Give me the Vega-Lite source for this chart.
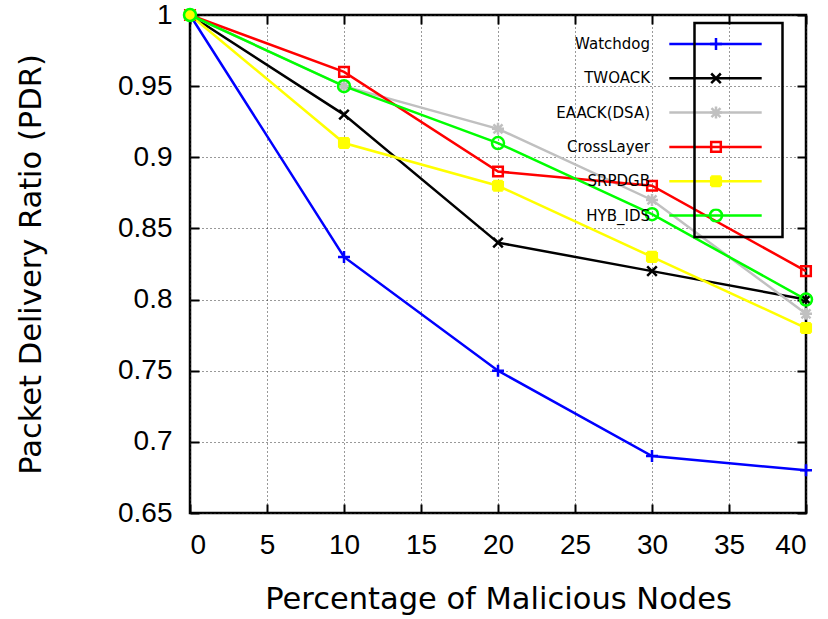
{
  "$schema": "https://vega.github.io/schema/vega-lite/v6.json",
  "autosize": {"type": "none"},
  "width": 616,
  "height": 498,
  "padding": {"left": 190, "top": 15, "right": 22, "bottom": 106},
  "background": "white",
  "config": {
    "font": "Liberation Sans",
    "view": {"stroke": "black", "strokeWidth": 2.5},
    "axis": {"domain": false, "labelColor": "black", "titleColor": "black", "titleFontWeight": "normal", "tickColor": "black", "tickWidth": 2},
    "legend": {"strokeWidth": 2.5}
  },
  "data": {"values": [
    {"pct": 0, "PDR": 1, "series": "Watchdog"},
    {"pct": 10, "PDR": 0.83, "series": "Watchdog"},
    {"pct": 20, "PDR": 0.75, "series": "Watchdog"},
    {"pct": 30, "PDR": 0.69, "series": "Watchdog"},
    {"pct": 40, "PDR": 0.68, "series": "Watchdog"},
    {"pct": 0, "PDR": 1, "series": "TWOACK"},
    {"pct": 10, "PDR": 0.93, "series": "TWOACK"},
    {"pct": 20, "PDR": 0.84, "series": "TWOACK"},
    {"pct": 30, "PDR": 0.82, "series": "TWOACK"},
    {"pct": 40, "PDR": 0.80, "series": "TWOACK"},
    {"pct": 0, "PDR": 1, "series": "EAACK(DSA)"},
    {"pct": 10, "PDR": 0.95, "series": "EAACK(DSA)"},
    {"pct": 20, "PDR": 0.92, "series": "EAACK(DSA)"},
    {"pct": 30, "PDR": 0.87, "series": "EAACK(DSA)"},
    {"pct": 40, "PDR": 0.79, "series": "EAACK(DSA)"},
    {"pct": 0, "PDR": 1, "series": "CrossLayer"},
    {"pct": 10, "PDR": 0.96, "series": "CrossLayer"},
    {"pct": 20, "PDR": 0.89, "series": "CrossLayer"},
    {"pct": 30, "PDR": 0.88, "series": "CrossLayer"},
    {"pct": 40, "PDR": 0.82, "series": "CrossLayer"},
    {"pct": 0, "PDR": 1, "series": "SRPDGB"},
    {"pct": 10, "PDR": 0.91, "series": "SRPDGB"},
    {"pct": 20, "PDR": 0.88, "series": "SRPDGB"},
    {"pct": 30, "PDR": 0.83, "series": "SRPDGB"},
    {"pct": 40, "PDR": 0.78, "series": "SRPDGB"},
    {"pct": 0, "PDR": 1, "series": "HYB_IDS"},
    {"pct": 10, "PDR": 0.95, "series": "HYB_IDS"},
    {"pct": 20, "PDR": 0.91, "series": "HYB_IDS"},
    {"pct": 30, "PDR": 0.86, "series": "HYB_IDS"},
    {"pct": 40, "PDR": 0.80, "series": "HYB_IDS"}
  ]},
  "resolve": {"axis": {"x": "independent", "y": "independent"}},
  "layer": [
    {
      "mark": {"type": "line", "strokeWidth": 2.5},
      "encoding": {
        "x": {"field": "pct", "type": "quantitative",
          "scale": {"domain": [0, 40], "nice": false},
          "axis": {"values": [0, 5, 10, 15, 20, 25, 30, 35, 40], "title": "Percentage of Malicious Nodes",
            "labelFontSize": 28, "titleFontSize": 30.5, "titleFont": "DejaVu Sans", "labelPadding": 27, "titlePadding": 25,
            "tickSize": -9, "grid": true, "gridDash": [1, 3], "gridColor": "#333", "gridWidth": 1}},
        "y": {"field": "PDR", "type": "quantitative",
          "scale": {"domain": [0.65, 1], "nice": false, "zero": false},
          "axis": {"values": [0.65, 0.7, 0.75, 0.8, 0.85, 0.9, 0.95, 1], "format": "~g", "title": "Packet Delivery Ratio (PDR)",
            "labelFontSize": 28, "titleFontSize": 30.5, "titleFont": "DejaVu Sans", "labelPadding": 27, "titlePadding": 71,
            "tickSize": -9, "grid": true, "gridDash": [1, 3], "gridColor": "#333", "gridWidth": 1}},
        "color": {"field": "series", "type": "nominal",
          "sort": ["Watchdog", "TWOACK", "EAACK(DSA)", "CrossLayer", "SRPDGB", "HYB_IDS"],
          "scale": {"range": ["#0000ff", "#000000", "#c0c0c0", "#ff0000", "#ffff00", "#00ff00"]},
          "legend": {"orient": "none", "legendX": 517, "legendY": 20.5, "title": null,
            "symbolType": "M-6.6,0L6.6,0", "symbolSize": 196, "symbolStrokeWidth": 2.5,
            "labelAlign": "right", "labelOffset": -74, "labelFontSize": 15, "labelFont": "DejaVu Sans", "labelLimit": 200,
            "rowPadding": 17.3, "padding": 0, "labelColor": "black"}}
      }
    },
    {
      "mark": {"type": "point", "filled": false, "size": 144, "strokeWidth": 2.5, "opacity": 1},
      "encoding": {
        "x": {"field": "pct", "type": "quantitative",
          "axis": {"orient": "top", "values": [0, 5, 10, 15, 20, 25, 30, 35, 40], "labels": false, "title": null, "tickSize": -9, "grid": false}},
        "y": {"field": "PDR", "type": "quantitative",
          "axis": {"orient": "right", "values": [0.65, 0.7, 0.75, 0.8, 0.85, 0.9, 0.95, 1], "labels": false, "title": null, "tickSize": -9, "grid": false}},
        "stroke": {"field": "series", "type": "nominal",
          "scale": {"domain": ["Watchdog", "TWOACK", "EAACK(DSA)", "CrossLayer", "SRPDGB", "HYB_IDS"],
            "range": ["#0000ff", "#000000", "#c0c0c0", "#ff0000", "#ffff00", "#00ff00"]},
          "legend": {"orient": "none", "legendX": 504.5, "legendY": 8, "title": null,
            "symbolSize": 144, "symbolStrokeWidth": 2.5, "labelOffset": 8, "labelLimit": 37,
            "labelFontSize": 14, "labelOpacity": 0, "clipHeight": 14, "rowPadding": 20.3, "padding": 14,
            "strokeColor": "black", "symbolFillColor": "transparent",
            "encode": {"legend": {"enter": {"strokeWidth": {"value": 2.5}}, "update": {"strokeWidth": {"value": 2.5}}}}}},
        "shape": {"field": "series", "type": "nominal",
          "scale": {"domain": ["Watchdog", "TWOACK", "EAACK(DSA)", "CrossLayer", "SRPDGB", "HYB_IDS"],
            "range": [
            "M-1,0L1,0M0,-1L0,1",
            "M-0.8,-0.8L0.8,0.8M-0.8,0.8L0.8,-0.8",
            "M-1,0L1,0M0,-1L0,1M-0.75,-0.75L0.75,0.75M-0.75,0.75L0.75,-0.75",
            "M-0.8,-0.8L0.8,-0.8L0.8,0.8L-0.8,0.8Z",
            "M-0.8,-0.8L0.8,-0.8M-0.8,-0.6L0.8,-0.6M-0.8,-0.4L0.8,-0.4M-0.8,-0.2L0.8,-0.2M-0.8,0L0.8,0M-0.8,0.2L0.8,0.2M-0.8,0.4L0.8,0.4M-0.8,0.6L0.8,0.6M-0.8,0.8L0.8,0.8M-0.8,-0.8L-0.8,0.8M0.8,-0.8L0.8,0.8",
            "circle"]},
          "legend": {"orient": "none", "legendX": 504.5, "legendY": 8, "title": null,
            "symbolSize": 144, "symbolStrokeWidth": 2.5, "labelOffset": 8, "labelLimit": 37,
            "labelFontSize": 14, "labelOpacity": 0, "clipHeight": 14, "rowPadding": 20.3, "padding": 14,
            "strokeColor": "black", "symbolFillColor": "transparent",
            "encode": {"legend": {"enter": {"strokeWidth": {"value": 2.5}}, "update": {"strokeWidth": {"value": 2.5}}}}}}
      }
    }
  ]
}
